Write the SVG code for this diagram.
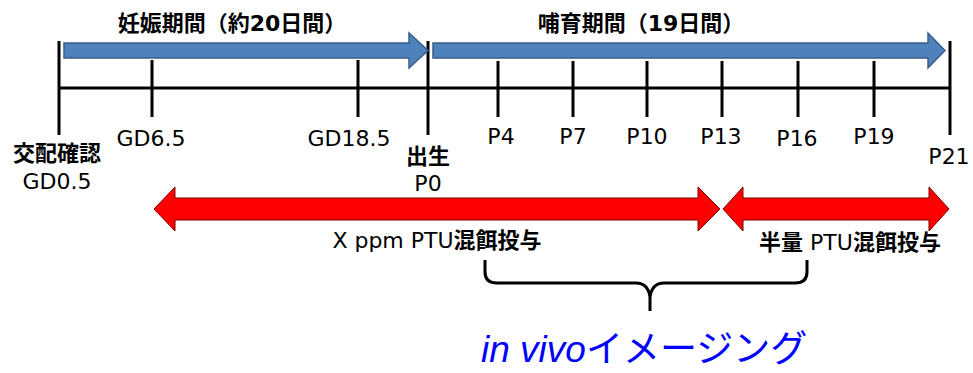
<svg xmlns="http://www.w3.org/2000/svg" width="973" height="373" viewBox="0 0 973 373">
<style>
.t{font-family:"DejaVu Sans","Noto Sans CJK JP",sans-serif;font-size:22px;fill:#000;text-anchor:middle}
.tk{stroke:#000;stroke-width:3;fill:none}
.blue{fill:#4F81BD;stroke:#385D8A;stroke-width:1.5}
.red{fill:#FF0000;stroke:#7a0000;stroke-width:1}
</style>
<rect width="973" height="373" fill="#fff"/>
<g id="timeline">
<line class="tk" x1="59" y1="88" x2="950" y2="88"/>
<line class="tk" x1="59" y1="41" x2="59" y2="135"/>
<line class="tk" x1="152" y1="60" x2="152" y2="117"/>
<line class="tk" x1="358" y1="60" x2="358" y2="117"/>
<line class="tk" x1="428" y1="41" x2="428" y2="135"/>
<line class="tk" x1="498" y1="61" x2="498" y2="117"/>
<line class="tk" x1="573" y1="61" x2="573" y2="117"/>
<line class="tk" x1="647" y1="61" x2="647" y2="117"/>
<line class="tk" x1="722" y1="61" x2="722" y2="117"/>
<line class="tk" x1="798" y1="61" x2="798" y2="117"/>
<line class="tk" x1="874" y1="61" x2="874" y2="117"/>
<line class="tk" x1="950" y1="41" x2="950" y2="135"/>
</g>
<g id="gestation">
<polygon class="blue" points="64,43 409,43 409,33 428,50.5 409,68 409,58 64,58"/>
<text class="t" x="232" y="31" font-weight="bold">妊娠期間（約20日間）</text>
</g>
<g id="lactation">
<polygon class="blue" points="433,43 928,43 928,33 945,50.5 928,68 928,58 433,58"/>
<text class="t" x="641" y="31" font-weight="bold">哺育期間（19日間）</text>
</g>
<g id="labels">
<text class="t" x="57" y="161" font-weight="bold">交配確認</text>
<text class="t" x="57" y="189">GD0.5</text>
<text class="t" x="151" y="146">GD6.5</text>
<text class="t" x="349" y="146">GD18.5</text>
<text class="t" x="428" y="164" font-weight="bold">出生</text>
<text class="t" x="428" y="191">P0</text>
<text class="t" x="501" y="144">P4</text>
<text class="t" x="573" y="144">P7</text>
<text class="t" x="647" y="144">P10</text>
<text class="t" x="721" y="144">P13</text>
<text class="t" x="797" y="146">P16</text>
<text class="t" x="874" y="144">P19</text>
<text class="t" x="949" y="164">P21</text>
</g>
<g id="dose-full">
<polygon class="red" points="154,209 175,187 175,198 698,198 698,187 720,209 698,231 698,220 175,220 175,231"/>
<text class="t" x="437" y="248">X ppm PTU<tspan font-weight="bold">混餌投与</tspan></text>
</g>
<g id="dose-half">
<polygon class="red" points="723,209 743,187 743,198 929,198 929,187 949,209 929,231 929,220 743,220 743,231"/>
<text class="t" x="850" y="250"><tspan font-weight="bold">半量</tspan> PTU<tspan font-weight="bold">混餌投与</tspan></text>
</g>
<g id="connectors">
<path class="tk" d="M485,260 L485,272 Q485,283 497,283 L636,283 Q648,283 650,297 L650,311 M650,297 Q652,283 664,283 L795,283 Q807,283 807,272 L807,260"/>
</g>
<g id="imaging">
<text x="481" y="362" font-family="Liberation Sans,'Noto Sans CJK JP',sans-serif" font-size="37" fill="#0000FF"><tspan font-style="italic">in vivo</tspan>イメージング</text>
</g>
</svg>
